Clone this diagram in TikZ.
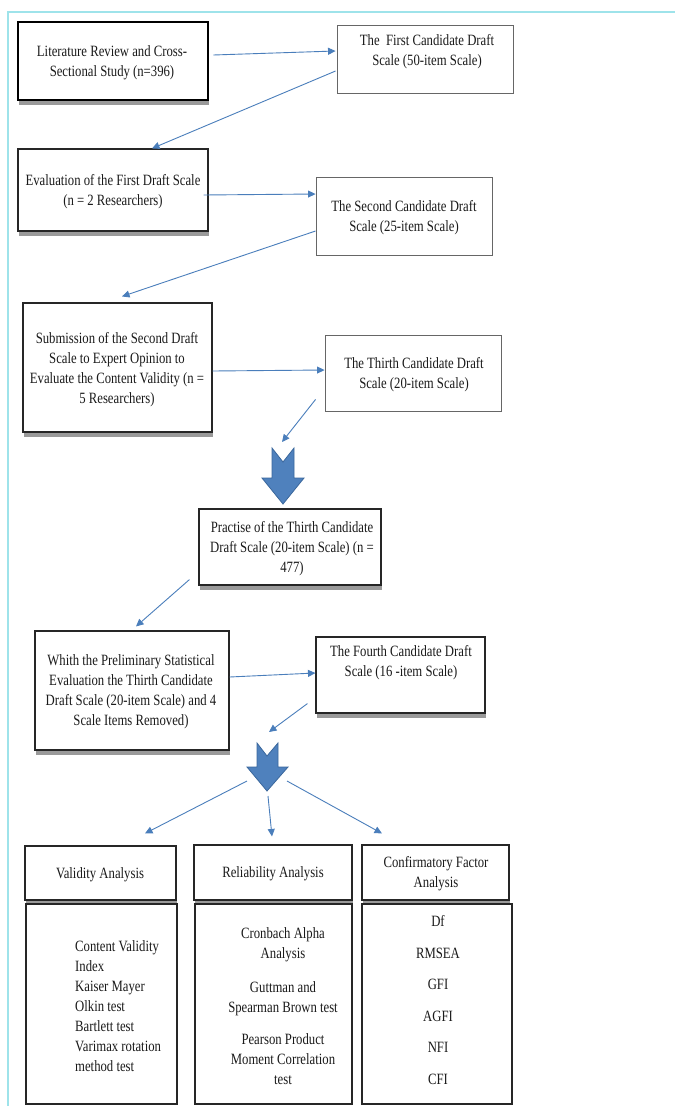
\documentclass[tikz,border=0pt]{standalone}
\usepackage{fontspec}
\setmainfont{Liberation Serif}[FakeStretch=0.81]
\usetikzlibrary{arrows.meta}
\definecolor{arrowblue}{HTML}{4A7EBB}
\definecolor{bigblue}{HTML}{4F81BD}
\definecolor{bigedge}{HTML}{3A679C}
\definecolor{framec}{HTML}{9EE3EA}
\definecolor{textc}{HTML}{1A1A1A}
\definecolor{shadowc}{HTML}{9A9A9A}
\tikzset{
  box/.style={draw=black!85, line width=1.1pt, fill=white, inner sep=0pt},
  lightbox/.style={draw=black!60, line width=0.9pt, fill=white, inner sep=0pt},
  thickbox/.style={draw=black, line width=2.6pt, fill=white, inner sep=0pt},
  txt/.style={align=center, inner sep=0pt, text=textc, font=\fontsize{15.7}{20}\selectfont},
  arr/.style={draw=arrowblue, line width=0.9pt, -{Triangle[length=7.5pt,width=7pt]}},
  bigarrow/.style={fill=bigblue, draw=bigedge, line width=0.8pt, line join=miter},
  shadowbar/.style={fill=shadowc}
}
\begin{document}
\begin{tikzpicture}[x=1pt,y=-1pt]
\useasboundingbox (0,0) rectangle (675,1106);
\fill[white] (0,0) rectangle (675,1106);
% frame
\draw[framec, line width=1.2pt] (8,1106) -- (8,12) -- (675,12);

% shadows
\fill[shadowbar] (19,100) rectangle (209,105);
\fill[shadowbar] (19,231) rectangle (209,236);
\fill[shadowbar] (24,432) rectangle (213,437);
\fill[shadowbar] (200,585) rectangle (382,590);
\fill[shadowbar] (36,750) rectangle (230,755);
\fill[shadowbar] (317,713) rectangle (486,718);
\fill[shadowbar] (26,900) rectangle (177,903);
\fill[shadowbar] (195,900) rectangle (353,903);
\fill[shadowbar] (363,900) rectangle (510,903);

% boxes
\node[thickbox, minimum width=190pt, minimum height=78pt] (lit) at (113,61) {};
\node[lightbox, minimum width=176pt, minimum height=68pt] (first) at (425,59) {};
\node[box, minimum width=190pt, minimum height=82pt] (eval) at (113,190) {};
\node[lightbox, minimum width=176pt, minimum height=78pt] (second) at (404,216) {};
\node[box, minimum width=189pt, minimum height=129pt] (sub) at (117.5,367.5) {};
\node[lightbox, minimum width=176pt, minimum height=76pt] (third) at (413,373) {};
\node[box, minimum width=182pt, minimum height=76pt] (prac) at (290,547) {};
\node[box, minimum width=194pt, minimum height=119pt] (whith) at (132,690.5) {};
\node[box, minimum width=169pt, minimum height=76pt] (fourth) at (400.5,675) {};
\node[box, minimum width=151pt, minimum height=54pt] (valh) at (100.5,873) {};
\node[box, minimum width=158pt, minimum height=55pt] (relh) at (273,872.5) {};
\node[box, minimum width=147pt, minimum height=55pt] (cfah) at (435.5,872.5) {};
\node[box, minimum width=151pt, minimum height=200pt] (valc) at (101.5,1004) {};
\node[box, minimum width=157pt, minimum height=200pt] (relc) at (273.5,1004) {};
\node[box, minimum width=150pt, minimum height=200pt] (cfac) at (437,1004) {};

% texts
\node[txt] (litT) at (112,63) {Literature Review and Cross-\\Sectional Study (n=396)};
\node[txt] (firstT) at (427,52) {The\ \ First Candidate Draft\\Scale (50-item Scale)};
\node[txt] (evalT) at (113,192) {Evaluation of the First Draft Scale\\(n = 2 Researchers)};
\node[txt] (secondT) at (404,218) {The Second Candidate Draft\\Scale (25-item Scale)};
\node[txt] (subT) at (117,370) {Submission of the Second Draft\\Scale to Expert Opinion to\\Evaluate the Content Validity (n =\\5 Researchers)};
\node[txt] (thirdT) at (414,375) {The Thirth Candidate Draft\\Scale (20-item Scale)};
\node[txt] (pracT) at (292,549) {Practise of the Thirth Candidate\\Draft Scale (20-item Scale) (n =\\477)};
\node[txt] (whithT) at (131,692) {Whith the Preliminary Statistical\\Evaluation the Thirth Candidate\\Draft Scale (20-item Scale) and 4\\Scale Items Removed)};
\node[txt] (fourthT) at (401,663) {The Fourth Candidate Draft\\Scale (16 -item Scale)};
\node[txt] (valhT) at (100,875) {Validity Analysis};
\node[txt] (relhT) at (273,874) {Reliability Analysis};
\node[txt] (cfahT) at (436,874) {Confirmatory Factor\\Analysis};
\node[txt, align=left, anchor=west] (valcT) at (75,1006) {Content Validity\\Index\\Kaiser Mayer\\Olkin test\\Bartlett test\\Varimax rotation\\method test};
\node[txt] (relcT) at (283,1006) {Cronbach Alpha\\Analysis\\[14pt]Guttman and\\Spearman Brown test\\[12pt]Pearson Product\\Moment Correlation\\test};
\node[txt] (cfacT) at (438,1000) {Df\\[11.6pt]RMSEA\\[11.6pt]GFI\\[11.6pt]AGFI\\[11.6pt]NFI\\[11.6pt]CFI};

% big block arrows
\coordinate (bigA) at (283,448);
\coordinate (bigB) at (267,743);
\draw[bigarrow] (272,448) -- (283,462) -- (294,448) -- (294,478) -- (304,478) -- (283,504) -- (262,478) -- (272,478) -- cycle;
\draw[bigarrow] (257,743) -- (267,756) -- (278,743) -- (278,767) -- (288,767) -- (267,791) -- (247,767) -- (257,767) -- cycle;

% connectors
\draw[arr] ([shift={(4,-6)}]lit.east) -- ([shift={(-1,-8)}]first.west);
\draw[arr] ([shift={(-1,12)}]first.west) -- ([shift={(39,0)}]eval.north);
\draw[arr] ([shift={(-5,5)}]eval.east) -- ([shift={(0,-22)}]second.west);
\draw[arr] ([shift={(0,15)}]second.west) -- ([shift={(4.5,-6)}]sub.north);
\draw[arr] ([shift={(0,3.5)}]sub.east) -- ([shift={(0,-3)}]third.west);
\draw[arr] ([shift={(-9,-12)}]third.south west) -- ([shift={(-1,-6)}]bigA);
\draw[arr] ([shift={(-9,-6)}]prac.south west) -- ([shift={(4,-4)}]whith.north);
\draw[arr] ([shift={(0,-13.5)}]whith.east) -- ([shift={(0,-2)}]fourth.west);
\draw[arr] ([shift={(-8,-10)}]fourth.south west) -- ([shift={(2,-11)}]bigB);
\draw[arr] ([shift={(-20,38)}]bigB) -- ([shift={(44.5,-12)}]valh.north);
\draw[arr] ([shift={(1,53)}]bigB) -- ([shift={(-1,-8)}]relh.north);
\draw[arr] ([shift={(20,38)}]bigB) -- ([shift={(-53.5,-11)}]cfah.north);
\end{tikzpicture}
\end{document}
